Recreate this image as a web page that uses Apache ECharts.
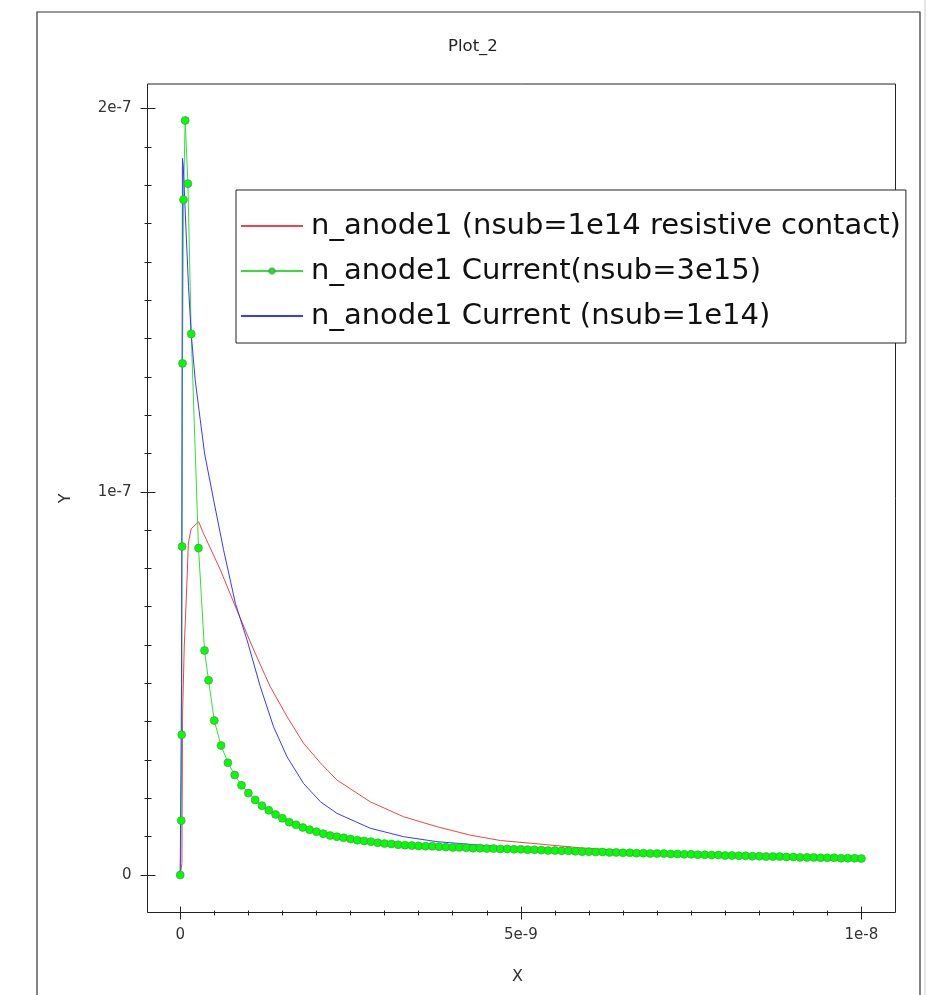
<!DOCTYPE html>
<html><head><meta charset="utf-8">
<script src="https://cdn.jsdelivr.net/npm/echarts@6/dist/echarts.min.js"></script>
<style>html,body{margin:0;padding:0;background:#fff}#c{width:936px;height:995px}</style>
</head><body><div id="c"></div>
<script>
// ---- data (x in ns -> scaled 1e-9, y in units of 1e-7) ----
const titleText = 'Plot_2';
const xAxisName = 'X';
const yAxisName = 'Y';
const seriesNames = [
  'n_anode1 (nsub=1e14 resistive contact)',
  'n_anode1 Current(nsub=3e15)',
  'n_anode1 Current (nsub=1e14)'
];
const xTickLabels = ['0', '5e-9', '1e-8'];
const yTickLabels = ['0', '1e-7', '2e-7'];

const redT = [0, 0.025, 0.035, 0.06, 0.075, 0.10, 0.12, 0.16, 0.27, 0.34, 0.59, 0.83, 1.08, 1.32, 1.57, 1.81, 2.06, 2.30, 2.79, 3.28, 3.77, 4.26, 4.70, 5.14, 5.87, 6.5, 7.0, 7.5, 8.0, 8.5, 9.0, 9.5, 10.0];
const redV = [0, 0.03, 0.42, 0.60, 0.66, 0.77, 0.866, 0.903, 0.922, 0.892, 0.796, 0.692, 0.587, 0.492, 0.413, 0.344, 0.292, 0.248, 0.191, 0.152, 0.126, 0.104, 0.090, 0.083, 0.071, 0.064, 0.060, 0.056, 0.053, 0.051, 0.048, 0.046, 0.044];

const greenT = [0, 0.015, 0.022, 0.028, 0.034, 0.048, 0.073, 0.113, 0.162, 0.269, 0.357, 0.416,
  0.5, 0.6, 0.7, 0.8, 0.9, 1.0, 1.1, 1.2, 1.3, 1.4, 1.5, 1.6, 1.7, 1.8, 1.9, 2.0,
  2.1, 2.2, 2.3, 2.4, 2.5, 2.6, 2.7, 2.8, 2.9, 3.0, 3.1, 3.2, 3.3, 3.4, 3.5, 3.6, 3.7, 3.8, 3.9, 4.0,
  4.1, 4.2, 4.3, 4.4, 4.5, 4.6, 4.7, 4.8, 4.9, 5.0, 5.1, 5.2, 5.3, 5.4, 5.5, 5.6, 5.7, 5.8, 5.9, 6.0,
  6.1, 6.2, 6.3, 6.4, 6.5, 6.6, 6.7, 6.8, 6.9, 7.0, 7.1, 7.2, 7.3, 7.4, 7.5, 7.6, 7.7, 7.8, 7.9, 8.0,
  8.1, 8.2, 8.3, 8.4, 8.5, 8.6, 8.7, 8.8, 8.9, 9.0, 9.1, 9.2, 9.3, 9.4, 9.5, 9.6, 9.7, 9.8, 9.9, 10.0];
const greenV = [0, 0.142, 0.366, 0.857, 1.335, 1.762, 1.969, 1.804, 1.412, 0.853, 0.586, 0.508,
  0.403, 0.338, 0.293, 0.261, 0.234, 0.214, 0.196, 0.181, 0.169, 0.158, 0.148, 0.138, 0.131, 0.124, 0.118, 0.113,
  0.108, 0.103, 0.100, 0.097, 0.094, 0.091, 0.089, 0.087, 0.084, 0.082, 0.081, 0.079, 0.078, 0.077, 0.076, 0.075, 0.075, 0.074, 0.073, 0.072,
  0.072, 0.071, 0.070, 0.070, 0.069, 0.069, 0.068, 0.068, 0.067, 0.067, 0.066, 0.066, 0.065, 0.064, 0.064, 0.063, 0.063, 0.062, 0.061, 0.061,
  0.060, 0.060, 0.059, 0.059, 0.058, 0.058, 0.057, 0.057, 0.056, 0.056, 0.056, 0.055, 0.055, 0.054, 0.054, 0.053, 0.053, 0.052, 0.052, 0.051,
  0.051, 0.050, 0.050, 0.049, 0.049, 0.048, 0.048, 0.048, 0.047, 0.047, 0.046, 0.046, 0.046, 0.045, 0.045, 0.045, 0.044, 0.044, 0.044, 0.043];

const blueT = [0, 0.02, 0.033, 0.045, 0.083, 0.122, 0.16, 0.22, 0.294, 0.357, 0.49, 0.636, 0.81, 0.98, 1.175, 1.37, 1.567, 1.81, 2.06, 2.30, 2.79, 3.28, 3.77, 4.40, 4.70, 5.87, 7.34, 8.81, 10.0];
const blueV = [0, 0.5, 1.87, 1.85, 1.693, 1.536, 1.415, 1.292, 1.188, 1.101, 0.979, 0.849, 0.709, 0.614, 0.492, 0.387, 0.309, 0.239, 0.191, 0.161, 0.122, 0.100, 0.087, 0.078, 0.074, 0.059, 0.050, 0.043, 0.037];

// ---- layout ----
const FONT = 'DejaVu Sans';
const X_MIN = -0.48e-9, X_MAX = 10.5e-9, Y_MIN = -0.978e-8, Y_MAX = 2.064e-7;
const L = 147.5, T = 84, W = 748, H = 828.5;
const X_END = 1e-8, X_STEP = 5e-9, Y_END = 2e-7, Y_STEP = 1e-7;
const gLeft = L + (0 - X_MIN) / (X_MAX - X_MIN) * W;
const gWidth = X_END / (X_MAX - X_MIN) * W;
const gTop = T + (Y_MAX - Y_END) / (Y_MAX - Y_MIN) * H;
const gHeight = Y_END / (Y_MAX - Y_MIN) * H;

const pair = (ts, vs) => ts.map((t, i) => [t * 1e-9, vs[i] * 1e-7]);
const tickColor = '#222';

const baseGrid = { show: false, containLabel: false, outerBoundsMode: 'none' };
const gridXTicks = Object.assign({ left: gLeft, width: gWidth, top: T, height: H }, baseGrid);
const gridYTicks = Object.assign({ left: L, width: W, top: gTop, height: gHeight }, baseGrid);

function dummy(grid) {
  return { type: 'value', gridIndex: grid, min: 0, max: 1, show: false, axisLine: { onZero: false } };
}
function auxX(grid, inside, major, minor, withLabels) {
  return {
    type: 'value', gridIndex: grid, min: 0, max: X_END, interval: X_STEP, position: 'bottom',
    axisLine: { show: false, onZero: false }, splitLine: { show: false }, minorSplitLine: { show: false },
    axisTick: { show: true, inside: inside, length: major, lineStyle: { color: tickColor, width: 1 } },
    minorTick: { show: true, splitNumber: 10, length: minor, lineStyle: { color: tickColor, width: 1 } },
    axisLabel: { show: withLabels, margin: 15, fontFamily: FONT, fontSize: 15, color: '#333',
      formatter: v => xTickLabels[Math.round(v / X_STEP)] },
    axisPointer: { show: false }
  };
}
function auxY(grid, inside, major, minor, withLabels) {
  return {
    type: 'value', gridIndex: grid, min: 0, max: Y_END, interval: Y_STEP, position: 'left',
    axisLine: { show: false, onZero: false }, splitLine: { show: false }, minorSplitLine: { show: false },
    axisTick: { show: true, inside: inside, length: major, lineStyle: { color: tickColor, width: 1 } },
    minorTick: { show: true, splitNumber: 10, length: minor, lineStyle: { color: tickColor, width: 1 } },
    axisLabel: { show: withLabels, margin: 16, fontFamily: FONT, fontSize: 15, color: '#333',
      formatter: v => yTickLabels[Math.round(v / Y_STEP)] },
    axisPointer: { show: false }
  };
}

const hiddenIcon = { color: 'rgba(0,0,0,0)', borderWidth: 0, opacity: 0 };

const chart = echarts.init(document.getElementById('c'), null, { renderer: 'canvas' });
chart.setOption({
  animation: false,
  backgroundColor: '#fff',
  title: { text: titleText, left: 443, top: 33,
    textStyle: { fontFamily: FONT, fontSize: 16.5, fontWeight: 'normal', color: '#222' } },
  legend: {
    orient: 'vertical', left: 236, top: 190,
    padding: [21, 5, 12, 4], itemGap: 15, itemWidth: 62, itemHeight: 7,
    backgroundColor: '#fff', borderColor: '#222', borderWidth: 1, borderRadius: 0,
    textStyle: { fontFamily: FONT, fontSize: 29, lineHeight: 30, color: '#111', padding: [0, 0, 0, 3] },
    data: [
      { name: seriesNames[0], itemStyle: hiddenIcon },
      { name: seriesNames[1] },
      { name: seriesNames[2], itemStyle: hiddenIcon }
    ]
  },
  graphic: [
    { type: 'rect', shape: { x: 37, y: 12, width: 883, height: 1100 }, style: { fill: 'none', stroke: '#333', lineWidth: 1.2 }, z: 0 },
    { type: 'line', shape: { x1: 925, y1: 0, x2: 925, y2: 995 }, style: { stroke: '#ccc', lineWidth: 1 }, z: 0 }
  ],
  grid: [
    { left: L, top: T, width: W, height: H, show: true, borderColor: '#222', borderWidth: 1, backgroundColor: 'transparent', containLabel: false, outerBoundsMode: 'none' },
    gridXTicks, Object.assign({}, gridXTicks),
    gridYTicks, Object.assign({}, gridYTicks)
  ],
  xAxis: [
    { type: 'value', gridIndex: 0, min: X_MIN, max: X_MAX, axisLine: { show: false, onZero: false }, axisTick: { show: false },
      axisLabel: { show: false }, splitLine: { show: false },
      name: xAxisName, nameLocation: 'middle', nameGap: 56,
      nameTextStyle: { fontFamily: FONT, fontSize: 16, color: '#333', padding: [0, 8, 0, 0] } },
    auxX(1, false, 7, 3, true),
    auxX(2, true, 6, 2, false),
    dummy(3), dummy(4)
  ],
  yAxis: [
    { type: 'value', gridIndex: 0, min: Y_MIN, max: Y_MAX, axisLine: { show: false, onZero: false }, axisTick: { show: false },
      axisLabel: { show: false }, splitLine: { show: false },
      name: yAxisName, nameLocation: 'middle', nameGap: 74, nameTextStyle: { fontFamily: FONT, fontSize: 16, color: '#333' } },
    dummy(1), dummy(2),
    auxY(3, false, 7, 3, true),
    auxY(4, true, 8, 4, false)
  ],
  series: [
    { name: seriesNames[0], type: 'line', xAxisIndex: 0, yAxisIndex: 0, data: pair(redT, redV),
      symbol: 'none', lineStyle: { color: '#ee4444', width: 1 }, itemStyle: { color: '#ee4444' } },
    { name: seriesNames[1], type: 'line', xAxisIndex: 0, yAxisIndex: 0, data: pair(greenT, greenV),
      symbol: 'circle', symbolSize: 8, showSymbol: true,
      lineStyle: { color: '#33e033', width: 1 },
      itemStyle: { color: '#00ff00', borderColor: 'rgba(100,120,100,0.55)', borderWidth: 1 } },
    { name: seriesNames[2], type: 'line', xAxisIndex: 0, yAxisIndex: 0, data: pair(blueT, blueV),
      symbol: 'none', lineStyle: { color: '#3838ff', width: 1 }, itemStyle: { color: '#3838ff' } }
  ]
});
</script></body></html>
